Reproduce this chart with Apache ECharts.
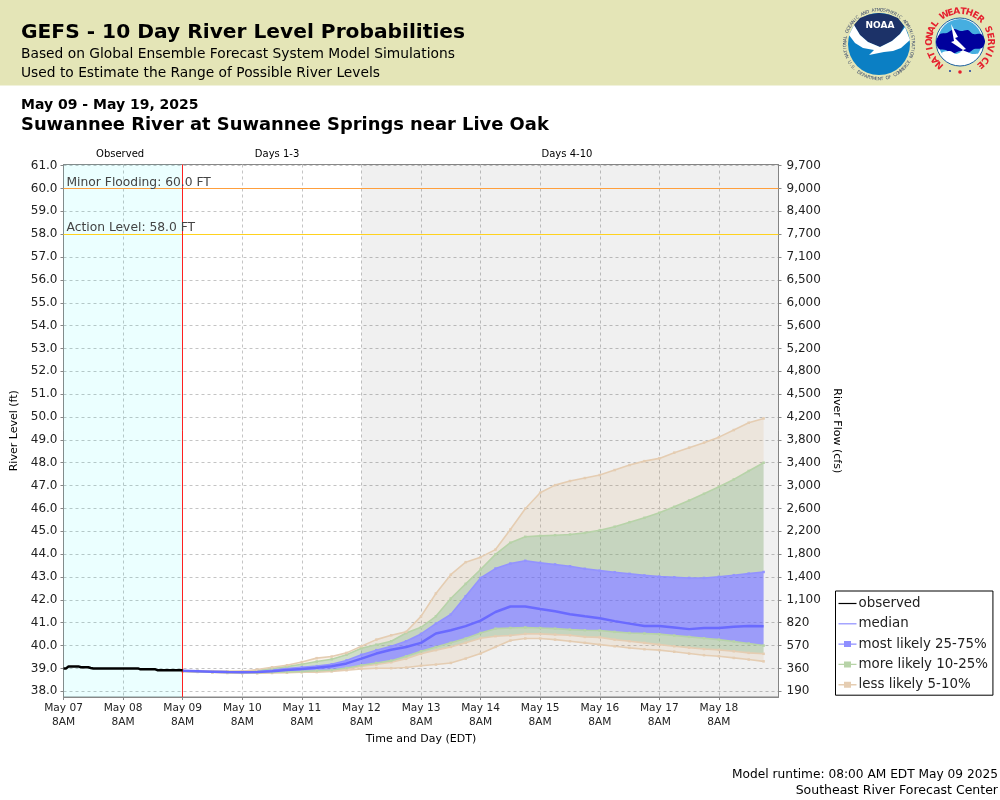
<!DOCTYPE html>
<html>
<head>
<meta charset="utf-8">
<title>GEFS River Level Probabilities</title>
<script src="https://cdn.jsdelivr.net/npm/echarts@6/dist/echarts.min.js"></script>
<style>
  html, body { margin: 0; padding: 0; background: #fff; }
  #chart { width: 1000px; height: 800px; }
</style>
</head>
<body>
<div id="chart"></div>
<script>
// hours since May 07 8AM
const obsHours = [0,1,2,3,4,5,6,7,8,9,10,11,12,13,14,15,16,17,18,19,20,21,22,23,24,25,26,27,28,29,30,31,32,33,34,35,36,37,38,39,40,41,42,43,44,45,46,47,48]
const observed = [39.0,39.0,39.08,39.08,39.09,39.09,39.09,39.05,39.05,39.05,39.05,39.02,39.0,39.0,39.0,39.0,39.0,39.0,39.0,39.0,39.0,39.0,39.0,39.0,39.0,39.0,39.0,39.0,39.0,39.0,39.0,38.96,38.96,38.96,38.96,38.96,38.96,38.96,38.92,38.92,38.92,38.92,38.92,38.92,38.92,38.92,38.92,38.92,38.92]

const fcstHours = [48,54,60,66,72,78,84,90,96,102,108,114,120,126,132,138,144,150,156,162,168,174,180,186,192,198,204,210,216,222,228,234,240,246,252,258,264,270,276,282]
const median = [38.9,38.88,38.86,38.84,38.83,38.84,38.88,38.93,38.97,39.03,39.1,39.22,39.43,39.65,39.82,39.94,40.12,40.53,40.67,40.85,41.09,41.47,41.71,41.71,41.6,41.5,41.37,41.28,41.2,41.07,40.96,40.86,40.86,40.79,40.72,40.77,40.77,40.82,40.86,40.85]
const pct5 = [38.87,38.85,38.83,38.8,38.79,38.79,38.8,38.81,38.83,38.84,38.87,38.92,38.98,39.01,39.01,39.04,39.12,39.17,39.24,39.43,39.65,39.94,40.22,40.31,40.31,40.26,40.19,40.12,40.04,39.97,39.9,39.84,39.8,39.73,39.65,39.58,39.53,39.46,39.39,39.31]
const pct10 = [38.87,38.85,38.83,38.81,38.8,38.8,38.82,38.84,38.85,38.87,38.9,38.98,39.09,39.17,39.27,39.42,39.64,39.8,39.94,40.12,40.32,40.41,40.44,40.51,40.51,40.48,40.45,40.38,40.36,40.26,40.19,40.12,40.04,39.97,39.91,39.85,39.81,39.75,39.68,39.64]
const pct25 = [38.88,38.86,38.84,38.82,38.81,38.81,38.83,38.85,38.87,38.9,38.93,39.02,39.14,39.24,39.34,39.53,39.75,39.94,40.12,40.31,40.55,40.74,40.77,40.79,40.77,40.74,40.7,40.67,40.66,40.6,40.55,40.53,40.5,40.44,40.38,40.32,40.26,40.18,40.09,40.0]
const pct75 = [38.9,38.89,38.87,38.85,38.85,38.88,38.94,39.0,39.05,39.1,39.18,39.35,39.6,39.8,39.97,40.19,40.51,40.96,41.36,42.16,42.96,43.37,43.59,43.71,43.62,43.55,43.47,43.36,43.28,43.21,43.14,43.07,43.02,42.99,42.96,42.96,43.01,43.08,43.15,43.22]
const pct90 = [38.9,38.89,38.87,38.86,38.86,38.91,39.0,39.08,39.18,39.3,39.4,39.6,39.88,40.04,40.19,40.55,40.8,41.28,42.06,42.7,43.33,43.99,44.5,44.76,44.8,44.83,44.86,44.93,45.05,45.2,45.4,45.59,45.81,46.07,46.35,46.64,46.95,47.27,47.64,48.0]
const pct95 = [38.9,38.89,38.88,38.87,38.88,38.95,39.05,39.14,39.28,39.45,39.52,39.68,39.97,40.26,40.45,40.6,41.28,42.28,43.1,43.65,43.87,44.2,45.08,45.99,46.69,47.02,47.2,47.33,47.46,47.68,47.9,48.07,48.19,48.44,48.66,48.88,49.12,49.43,49.75,49.94]

const levelTicks = [38,39,40,41,42,43,44,45,46,47,48,49,50,51,52,53,54,55,56,57,58,59,60,61]
const flowTicks = ['190','360','570','820','1,100','1,400','1,800','2,200','2,600','3,000','3,400','3,800','4,200','4,500','4,800','5,200','5,600','6,000','6,500','7,100','7,700','8,400','9,000','9,700']
const dayLabels = ['May 07','May 08','May 09','May 10','May 11','May 12','May 13','May 14','May 15','May 16','May 17','May 18']

const FONT = 'DejaVu Sans'
const TAN = { line: '#e5cdb2', fill: 'rgba(222,184,135,0.18)' }
const GREEN = { line: '#b7d3a8', fill: 'rgba(141,177,124,0.42)' }
const BLUE = { line: '#9393ff', fill: 'rgba(100,100,255,0.6)' }

// time axis so the bands stack on y. The axis clock starts at UTC midnight
// so its daily ticks land where the chart has its 8AM marks
const START = Date.UTC(2025, 4, 7)
const DAY = 86400000
const toTime = h => START + h * 3600000
const pairs = (xs, ys) => xs.map((x, i) => [toTime(x), ys[i]])

// one layer of the stacked band: fills from `lower` up to `upper`
function bandLayer(name, c, lower, upper) {
    return {
        name,
        type: 'line',
        stack: 'bands',
        symbol: 'rect',
        symbolSize: 2.5,
        itemStyle: { color: c.line },
        lineStyle: { color: c.line, width: 1.6 },
        areaStyle: lower ? { color: c.fill, opacity: 1 } : undefined,
        silent: true,
        data: fcstHours.map((h, i) => [toTime(h), lower ? upper[i] - lower[i] : upper[i]]),
        z: 3
    }
}

// header text, left aligned
const txt = (x, y, text, font, fill) => ({
    type: 'text', x, y, silent: true,
    style: { text, font, fill: fill || '#000', align: 'left', verticalAlign: 'middle' }
})

const poly = (points, fill, smooth) => ({
    type: 'polygon', silent: true, shape: { points, smooth: smooth || 0 }, style: { fill }
})

// puts single letters around a circle. a = degrees clockwise from the top
function ringTop(str, cx, cy, r, start, step, font, fill) {
    return str.split('').map((ch, i) => {
        const a = (start + i * step) * Math.PI / 180
        return {
            type: 'text', x: cx + r * Math.sin(a), y: cy - r * Math.cos(a), rotation: -a, silent: true,
            style: { text: ch, font, fill, align: 'center', verticalAlign: 'middle' }
        }
    })
}
// same but reading left to right along the bottom. b = degrees from the bottom, right is positive
function ringBottom(str, cx, cy, r, start, step, font, fill) {
    return str.split('').map((ch, i) => {
        const b = (start + i * step) * Math.PI / 180
        return {
            type: 'text', x: cx + r * Math.sin(b), y: cy + r * Math.cos(b), rotation: b, silent: true,
            style: { text: ch, font, fill, align: 'center', verticalAlign: 'middle' }
        }
    })
}

const noaaLogo = [
    { type: 'circle', shape: { cx: 879, cy: 44, r: 31 }, style: { fill: '#0b7fc4' }, silent: true },
    poly([[854,25],[860,18],[869,14.5],[879,13],[889,14.5],[898,18],[904,26],[900,34],[892,41],[880,47],[868,42],[860,35]], '#1c3268'),
    poly([[849,35],[854,25],[860,35],[868,42],[880,47],[892,41],[900,34],[905,27],[910,40],[901,48],[893,51],[884,52],[869,55],[874,50],[863,48],[855,43]], '#fff'),
    txt(865.5, 26, 'NOAA', 'bold 9px ' + FONT, '#fff'),
    ...ringTop('NATIONAL OCEANIC AND ATMOSPHERIC ADMINISTRATION', 879, 44, 34, -112, 4.85, '4.5px ' + FONT, '#3b4a6b'),
    ...ringBottom('U.S. DEPARTMENT OF COMMERCE', 879, 44, 35, -58, 4.5, '4.5px ' + FONT, '#3b4a6b')
]

const nwsLogo = [
    { type: 'circle', shape: { cx: 960, cy: 42, r: 24 }, style: { fill: '#fff', stroke: '#1a5f9e', lineWidth: 1 }, silent: true },
    { type: 'circle', shape: { cx: 960, cy: 41, r: 22 }, style: { fill: '#46aee0' }, silent: true },
    poly([[936,42],[940,34],[947,33],[954,29],[961,31],[968,30],[973,34],[981,34],[985,41],[982,48],[974,49],[968,53],[960,51],[952,54],[946,50],[939,49]], '#00009c', 0.3),
    poly([[942,53],[950,51],[956,54],[964,51],[972,54],[978,54],[970,62],[960,64],[950,62]], '#fff', 0.3),
    poly([[951,24],[958,37],[955,38],[966,49],[963,50],[977,60],[960,52],[963,50],[951,42],[954,41]], '#fff'),
    ...ringTop('NATIONAL WEATHER SERVICE', 960, 42, 30.5, -138, 12, 'bold 9px ' + FONT, '#e5202e'),
    { type: 'circle', shape: { cx: 950, cy: 71, r: 1 }, style: { fill: '#1a3c9e' }, silent: true },
    { type: 'circle', shape: { cx: 960, cy: 72, r: 1.8 }, style: { fill: '#e5202e' }, silent: true },
    { type: 'circle', shape: { cx: 970, cy: 71, r: 1 }, style: { fill: '#1a3c9e' }, silent: true }
]

const LINE_ICON = 'path://M0,4.4 L18,4.4 L18,5.6 L0,5.6 Z'
const BAND_ICON = 'path://M0,4.3 L5.5,4.3 L5.5,2 L12.5,2 L12.5,4.3 L18,4.3 L18,5.7 L12.5,5.7 L12.5,8 L5.5,8 L5.5,5.7 L0,5.7 Z'

const chart = echarts.init(document.getElementById('chart'))

chart.setOption({
    animation: false,
    useUTC: true,
    backgroundColor: '#fff',
    textStyle: { fontFamily: FONT },
    grid: { left: 63.5, right: 221.5, top: 164.5, bottom: 103, outerBoundsMode: 'none', show: true, borderColor: '#888', borderWidth: 1, backgroundColor: 'transparent' },
    legend: {
        orient: 'vertical', left: 835.5, top: 591,
        data: [
            { name: 'observed', icon: LINE_ICON, itemStyle: { color: '#000' } },
            { name: 'median', icon: LINE_ICON, itemStyle: { color: '#8f8fff' } },
            { name: 'most likely 25-75%', icon: BAND_ICON, itemStyle: { color: '#8f8fff' } },
            { name: 'more likely 10-25%', icon: BAND_ICON, itemStyle: { color: '#b7d3a8' } },
            { name: 'less likely 5-10%', icon: BAND_ICON, itemStyle: { color: '#e5cdb2' } }
        ],
        itemWidth: 18, itemHeight: 10, itemGap: 7.3,
        padding: [6, 5, 4, 3],
        backgroundColor: '#fff', borderColor: '#000', borderWidth: 1,
        textStyle: { fontFamily: FONT, fontSize: 13.4, color: '#222', padding: [0, 0, 0, -3] },
        selectedMode: false
    },
    xAxis: {
        type: 'time', min: toTime(0), max: toTime(288),
        minInterval: DAY, maxInterval: DAY,
        name: 'Time and Day (EDT)', nameLocation: 'middle', nameGap: 37,
        nameTextStyle: { fontSize: 11, color: '#000', fontFamily: FONT },
        axisLine: { lineStyle: { color: '#888' } },
        axisTick: { length: 3, lineStyle: { color: '#888' } },
        axisLabel: {
            fontSize: 10.6, color: '#222', lineHeight: 14, margin: 4, hideOverlap: false,
            showMinLabel: true, showMaxLabel: false,
            formatter: v => {
                const day = dayLabels[Math.round((v - START) / DAY)]
                return day ? day + '\n8AM' : ''
            }
        },
        splitLine: { show: true, lineStyle: { color: '#c4c4c4', type: [3, 3], width: 1 } }
    },
    yAxis: [{
        type: 'value', min: 37.75, max: 61.05,
        name: 'River Level (ft)', nameLocation: 'middle', nameGap: 39.5,
        nameTextStyle: { fontSize: 11, color: '#000', fontFamily: FONT },
        axisLine: { show: true, lineStyle: { color: '#888' } },
        axisTick: { show: true, length: 3, customValues: levelTicks, lineStyle: { color: '#888' } },
        axisLabel: { customValues: levelTicks, fontSize: 12, color: '#222', margin: 6, formatter: v => v.toFixed(1) },
        splitLine: { show: true, lineStyle: { color: '#c4c4c4', type: [3, 3], width: 1 } }
    }, {
        type: 'value', min: 37.75, max: 61.05, position: 'right',
        name: 'River Flow (cfs)', nameLocation: 'middle', nameGap: 48, nameRotate: -90,
        nameTextStyle: { fontSize: 11, color: '#000', fontFamily: FONT },
        axisLine: { show: true, lineStyle: { color: '#888' } },
        axisTick: { show: true, length: 3, customValues: levelTicks, lineStyle: { color: '#888' } },
        axisLabel: { customValues: levelTicks, fontSize: 12, color: '#222', margin: 8, formatter: v => flowTicks[levelTicks.indexOf(v)] },
        splitLine: { show: false }
    }],
    graphic: { elements: [
        { type: 'rect', shape: { x: 0, y: 0, width: 1000, height: 85.5 }, style: { fill: '#e4e5b7' }, silent: true, z: -1 },
        txt(21, 33, 'GEFS - 10 Day River Level Probabilities', 'bold 20.2px ' + FONT),
        txt(21, 54, 'Based on Global Ensemble Forecast System Model Simulations', '13.8px ' + FONT),
        txt(21, 73, 'Used to Estimate the Range of Possible River Levels', '13.8px ' + FONT),
        txt(21, 105, 'May 09 - May 19, 2025', 'bold 14px ' + FONT),
        txt(21, 125, 'Suwannee River at Suwannee Springs near Live Oak', 'bold 17.9px ' + FONT),
        ...noaaLogo,
        ...nwsLogo,
        { type: 'text', x: 998, y: 775, silent: true, style: { text: 'Model runtime: 08:00 AM EDT May 09 2025', font: '12.2px ' + FONT, fill: '#000', align: 'right', verticalAlign: 'middle' } },
        { type: 'text', x: 998, y: 791, silent: true, style: { text: 'Southeast River Forecast Center', font: '12.5px ' + FONT, fill: '#000', align: 'right', verticalAlign: 'middle' } }
    ] },
    series: [
        {
            // background zones and reference lines
            name: 'zones', type: 'line', data: [], silent: true,
            markArea: {
                silent: true,
                label: { position: 'top', distance: 5, fontSize: 10, color: '#000', fontFamily: FONT },
                data: [
                    [{ name: 'Observed', xAxis: toTime(0), itemStyle: { color: 'rgba(0,255,255,0.08)' }, label: { offset: [-3, 0] } }, { xAxis: toTime(48) }],
                    [{ name: 'Days 1-3', xAxis: toTime(48), itemStyle: { color: 'rgba(255,255,255,0)' }, label: { offset: [5, 0] } }, { xAxis: toTime(120) }],
                    [{ name: 'Days 4-10', xAxis: toTime(120), itemStyle: { color: 'rgba(0,0,0,0.06)' }, label: { offset: [-3, 0] } }, { xAxis: toTime(288) }]
                ]
            },
            markLine: {
                silent: true, symbol: 'none', animation: false,
                data: [
                    { yAxis: 60, lineStyle: { color: '#ff9f3c', width: 1, type: 'solid' }, label: { formatter: 'Minor Flooding: 60.0 FT', position: 'insideStartTop', color: '#444', fontSize: 12.3, fontFamily: FONT, distance: 0, padding: [0, 0, 0, 3] } },
                    { yAxis: 58, lineStyle: { color: '#ffd21e', width: 1, type: 'solid' }, label: { formatter: 'Action Level: 58.0 FT', position: 'insideStartTop', color: '#444', fontSize: 12.3, fontFamily: FONT, distance: 0, padding: [0, 0, 0, 3] } },
                    { xAxis: toTime(48), lineStyle: { color: '#ff2020', width: 1, type: 'solid' }, label: { show: false } }
                ]
            }
        },
        bandLayer('less likely 5-10%', TAN, null, pct5),
        bandLayer('less likely 5-10%', TAN, pct5, pct10),
        bandLayer('more likely 10-25%', GREEN, pct10, pct25),
        bandLayer('most likely 25-75%', BLUE, pct25, pct75),
        bandLayer('more likely 10-25%', GREEN, pct75, pct90),
        bandLayer('less likely 5-10%', TAN, pct90, pct95),
        {
            name: 'median', type: 'line', symbol: 'none', silent: true, z: 4,
            itemStyle: { color: '#6a6aff' },
            lineStyle: { color: '#6a6aff', width: 2.5 },
            data: pairs(fcstHours, median)
        },
        {
            name: 'observed', type: 'line', symbol: 'none', silent: true, z: 5,
            itemStyle: { color: '#000' },
            lineStyle: { color: '#000', width: 2.5 },
            data: pairs(obsHours, observed)
        }
    ]
})
</script>
</body>
</html>
